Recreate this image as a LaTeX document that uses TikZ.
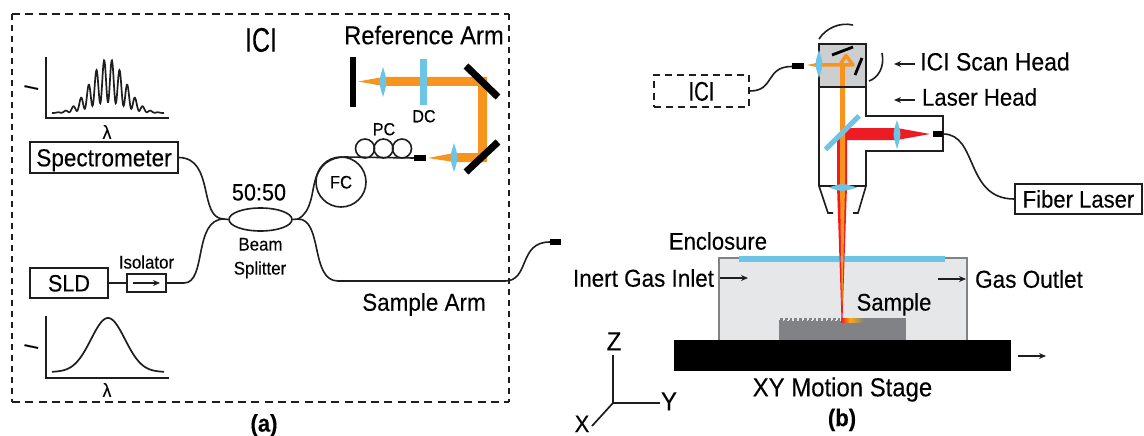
\documentclass[tikz,border=0pt]{standalone}
\usepackage{fontspec}
\setmainfont[FakeStretch=0.92,FakeBold=0.2]{Liberation Sans}
\usetikzlibrary{shapes.geometric,arrows.meta}
\definecolor{bl}{HTML}{6CC5E6}
\definecolor{og}{HTML}{F7941D}
\definecolor{rd}{HTML}{ED1C24}
\definecolor{ink}{HTML}{1E1E1E}
\definecolor{encl}{HTML}{E6E7E8}
\definecolor{smp}{HTML}{808285}
\definecolor{hd}{HTML}{CDCECF}
\newcommand{\vlens}[4]{\fill[bl] (#1,#2) .. controls (#1+#4,{(#2+#3)/2}) .. (#1,#3) .. controls (#1-#4,{(#2+#3)/2}) .. cycle;}
\tikzset{
  x=1pt,y=-1pt,
  lab/.style={inner sep=0pt,text depth=0pt,text height={0.716*#1pt},font=\fontsize{#1pt}{#1pt}\selectfont,text=black},
  boxn/.style={draw=ink,line width=1.6pt,rectangle,inner sep=0pt,fill=white},
  conn/.style={fill=black,rectangle,inner sep=0pt,minimum width=12pt,minimum height=6pt},
  fib/.style={draw=ink,line width=1.6pt},
  dashh/.style={draw=ink,line width=1.7pt,dash pattern=on 8pt off 5.3pt},
  dashv/.style={draw=ink,line width=1.7pt,dash pattern=on 6pt off 5pt},
  axs/.style={draw=ink,line width=1.7pt},
  arr/.style={draw=ink,line width=1.5pt,-{Stealth[length=7pt,width=6pt]}},
  mir/.style={draw=black,line width=7pt},
  head/.style={draw=ink,line width=1.6pt},
  loopc/.style={draw=ink,line width=1.6pt,circle,minimum size=19pt,inner sep=0pt},
}
\begin{document}
\begin{tikzpicture}
\useasboundingbox (0,0) rectangle (1144,436);
\fill[white] (0,0) rectangle (1144,436);
% (a) frame
\draw[dashh] (12,14) -- (509,14);
\draw[dashh] (12,402) -- (509,402);
\draw[dashv] (12,14) -- (12,402);
\draw[dashv] (509,14) -- (509,402);
\node[lab=34] (ttl) at (261,39.5) {\scalebox{.8}[1]{ICI}};
\node[lab=25.8] (refarm) at (424,35) {Reference Arm};
% spectra
\draw[axs] (46,57) -- (46,118) -- (169,118);
\draw[ink,line width=1.7pt] plot[domain=52:164,samples=300] (\x,{113-54*exp(-((\x-108)/24)*((\x-108)/24))*(0.6-0.4*cos(46.4516*(\x-108)))});
\node[lab=20,rotate=78] (i1) at (31,87.5) {I};
\node[lab=19] (l1) at (107,132) {λ};
\draw[axs] (46,316) -- (46,378) -- (169,378);
\draw[ink,line width=1.7pt] plot[domain=52:164,samples=100] (\x,{372-54*exp(-((\x-108)/24)*((\x-108)/24))});
\node[lab=20,rotate=78] (i2) at (31,346.5) {I};
\node[lab=19] (l2) at (107,390) {λ};
% boxes
\node[boxn,lab=24.5,minimum width=148pt,minimum height=31pt] (spec) at (104,157.5) {Spectrometer};
\node[boxn,lab=23.5,minimum width=78pt,minimum height=30pt] (sld) at (69,283) {SLD};
\node[boxn,minimum width=39pt,minimum height=18pt] (iso) at (146.5,283) {};
\coordinate (isoa) at (133,283);
\coordinate (isob) at (160,283);
\draw[arr] (isoa) -- (isob);
\node[lab=18.3] (isot) at (146.5,262) {Isolator};
\node[lab=23.5] (ratio) at (259,192) {50:50};
\node[lab=18.3] (bm) at (260.5,244) {Beam};
\node[lab=18.3] (sp) at (260,268) {Splitter};
\node[boxn,ellipse,minimum width=63pt,minimum height=23pt] (bs) at (260.5,219.5) {};
\coordinate (jl) at (224,219);
\coordinate (jr) at (298,219);
\draw[fib] (bs.west) -- (jl);
\draw[fib] (bs.east) -- (jr);
\draw[fib] (sld.east) -- (iso.west);
\draw[fib] (spec.east) .. controls (215,158) and (198,219) .. (jl);
\draw[fib] (iso.east) -- (184,283) .. controls (207,283) and (193,219) .. (jl);
\coordinate (saend) at (505,281);
\node[conn,minimum width=11pt] (sacon) at (555.5,242) {};
\draw[fib] (jr) .. controls (323,219) and (310,281) .. (338,281) -- (saend) .. controls (530,281) and (518,242) .. (sacon.west);
\node[lab=24.4] (sat) at (424,302) {Sample Arm};
% FC + PC
\node[draw=ink,line width=1.6pt,circle,minimum size=50pt,inner sep=0pt,lab=18] (fc) at (341,182) {FC};
\node[loopc] (p1) at (365,148.5) {};
\node[loopc] (p2) at (383.5,148.5) {};
\node[loopc] (p3) at (402,148.5) {};
\node[conn] (pccon) at (420,158) {};
\draw[fib] (jr) .. controls (312,212) and (312,190) .. (315,181) .. controls (319,165) and (330,157) .. (345,157) -- (pccon.west);
\node[lab=17.5] (pc) at (384,129) {PC};
\node[lab=17.5] (dct) at (424,116) {DC};
% reference arm beams
\fill[og] (358,81.5) -- (383,77) -- (487,77) -- (487,162) -- (454,162) -- (428,158) -- (454,153) -- (478,153) -- (478,86) -- (383,86) -- cycle;
\vlens{383}{67}{97}{4.5}
\vlens{454}{143}{172}{4.5}
\fill[bl] (420,59) rectangle (427,105);
\fill[black] (350,57) rectangle (356,107);
\draw[mir] (466,66) -- (498,97);
\draw[mir] (498,142) -- (466,172);
% (a)/(b)
\node[lab=24] (capa) at (264,423) {\textbf{(a)}};
\node[lab=24] (capb) at (842,417.5) {\textbf{(b)}};
% ICI small
\node[draw=ink,line width=1.7pt,dash pattern=on 7pt off 5pt,rectangle,minimum width=95pt,minimum height=32pt,inner sep=0pt,lab=27] (ici) at (701.5,91) {\scalebox{.82}[1]{ICI}};
\node[conn] (icon) at (798,66.5) {};
\draw[fib] (ici.east) .. controls (775,91) and (765,66.5) .. (icon.west);
% enclosure
\fill[encl] (719,258) rectangle (967,341);
\draw[draw=smp,line width=1.5pt] (719,341) -- (719,258) -- (967,258) -- (967,341);
\fill[bl] (739,256) rectangle (945,261.5);
% sample
\fill[smp] (779,320) rectangle (906,341);
\fill[smp] (842,318) rectangle (906,321);
\foreach \q in {0,...,12} {
  \fill[smp] ({780+\q*4.8},317.5) rectangle ({782.8+\q*4.8},320);
  \fill[encl] ({782.5+\q*4.8},320) rectangle ({784.2+\q*4.8},321.2);
}
\shade[left color=rd,right color=og!80!yellow] (841,318) rectangle (850,322);
\shade[left color=og!80!yellow,right color=smp] (850,318) rectangle (864,322);
% head: beams
\fill[rd] (897,128) -- (847,128) -- (837,138) -- (837,186) -- (841.5,320) -- (842.5,320) -- (847,186) -- (847,140) -- (897,140) -- cycle;
\fill[rd] (897,128) -- (930,134) -- (897,140) -- cycle;
\fill[og] (840,64) -- (845,64) -- (845,186) -- (842.4,305) -- (841.8,305) -- (840,186) -- cycle;
\fill[bl,opacity=.3] (836,256) rectangle (848,261.5);
% scan head
\fill[hd] (819,44) rectangle (866,87);
\fill[og] (840,64) -- (845,64) -- (845,100) -- (840,100) -- cycle;
\draw[og,line width=3.5pt,line join=round] (819,65) -- (853,65) -- (846,55.5) -- (840,65);
\fill[og] (807,65) -- (819,62.5) -- (819,67.5) -- cycle;
\draw[black,line width=2.8pt] (832,55) -- (853,47);
\draw[black,line width=2.8pt] (862,58) -- (855,75);
\draw[head] (819,44) rectangle (866,87);
\vlens{819}{50}{78}{4.5}
\draw[head] (866,87) -- (866,116) -- (943,116) -- (943,151) -- (866,151) -- (866,186) -- (858,213) -- (853,213);
\draw[head] (819,87) -- (819,186) -- (828,213) -- (833,213);
\draw[head] (819,186) -- (866,186);
\fill[bl] (829,187.5) .. controls (842,183) .. (857,187.5) .. controls (842,192) .. cycle;
\draw[bl,line width=5pt] (825.5,149.5) -- (859,116);
\fill[bl] (897,120) .. controls (901.5,134) .. (897,149) .. controls (892.5,134) .. cycle;
\node[conn,minimum width=10pt,minimum height=5.5pt] (lcon) at (938,134) {};
\node[boxn,lab=24,minimum width=127pt,minimum height=30pt] (fl) at (1078.5,199) {Fiber Laser};
\draw[fib] (lcon.east) .. controls (978,134) and (965,199) .. (fl.west);
% motion arcs
\draw[head] (819,39) .. controls (826,28) and (840,22) .. (853,25);
\draw[head] (882,53) .. controls (885,67) and (878,78) .. (869,81);
% head labels
\coordinate (a1s) at (915,64); \coordinate (a1e) at (894,64);
\coordinate (a2s) at (915,100); \coordinate (a2e) at (894,100);
\draw[arr] (a1s) -- (a1e);
\draw[arr] (a2s) -- (a2e);
\node[lab=25] (t1) at (995,61.5) {ICI Scan Head};
\node[lab=24.2] (t2) at (979.5,97) {Laser Head};
% enclosure labels
\node[lab=24] (en) at (718,241) {Enclosure};
\node[lab=24.4] (ig) at (643.5,278) {Inert Gas Inlet};
\coordinate (ga) at (720,278); \coordinate (gb) at (748,278);
\draw[arr] (ga) -- (gb);
\coordinate (gc) at (938,279); \coordinate (gd) at (966,279);
\draw[arr] (gc) -- (gd);
\node[lab=24.5] (go) at (1029,279) {Gas Outlet};
\node[lab=24] (sm) at (894,302) {Sample};
% stage
\node[fill=black,rectangle,inner sep=0pt,minimum width=337pt,minimum height=31pt] (stage) at (842.5,355.5) {};
\coordinate (ma) at (1018,356); \coordinate (mb) at (1046,356);
\draw[arr] (ma) -- (mb);
\node[lab=26] (xy) at (842.5,387) {XY Motion Stage};
% axes
\coordinate (o) at (613,403);
\draw[axs] (613,355) -- (o) -- (660,403);
\draw[axs] (o) -- (592,426);
\node[lab=26] (zt) at (614,341) {Z};
\node[lab=26] (yt) at (669,401) {Y};
\node[lab=24] (xt) at (582,423.5) {X};
\end{tikzpicture}
\end{document}
